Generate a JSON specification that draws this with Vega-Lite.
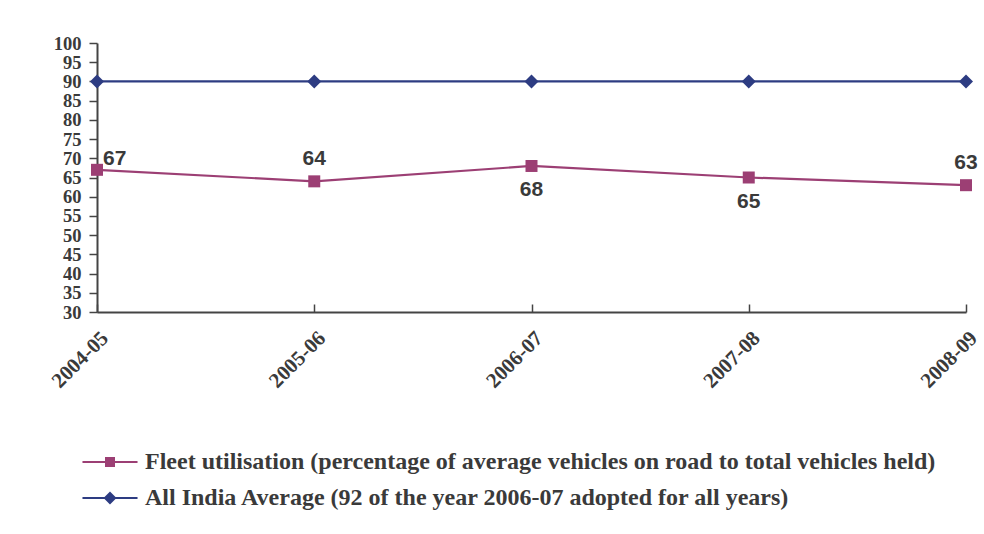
{
  "$schema": "https://vega.github.io/schema/vega-lite/v6.json",
  "width": 869,
  "height": 269,
  "autosize": {"type": "none"},
  "padding": {"left": 97, "top": 43, "right": 18, "bottom": 222},
  "background": "white",
  "config": {"view": {"stroke": null}},
  "data": {
    "values": [
      {"year": "2004-05", "series": "Fleet utilisation (percentage of average vehicles on road to total vehicles held)", "value": 67},
      {"year": "2005-06", "series": "Fleet utilisation (percentage of average vehicles on road to total vehicles held)", "value": 64},
      {"year": "2006-07", "series": "Fleet utilisation (percentage of average vehicles on road to total vehicles held)", "value": 68},
      {"year": "2007-08", "series": "Fleet utilisation (percentage of average vehicles on road to total vehicles held)", "value": 65},
      {"year": "2008-09", "series": "Fleet utilisation (percentage of average vehicles on road to total vehicles held)", "value": 63},
      {"year": "2004-05", "series": "All India Average (92 of the year 2006-07 adopted for all years)", "value": 90},
      {"year": "2005-06", "series": "All India Average (92 of the year 2006-07 adopted for all years)", "value": 90},
      {"year": "2006-07", "series": "All India Average (92 of the year 2006-07 adopted for all years)", "value": 90},
      {"year": "2007-08", "series": "All India Average (92 of the year 2006-07 adopted for all years)", "value": 90},
      {"year": "2008-09", "series": "All India Average (92 of the year 2006-07 adopted for all years)", "value": 90}
    ]
  },
  "encoding": {
    "x": {
      "field": "year",
      "type": "ordinal",
      "sort": null,
      "scale": {"type": "point", "padding": 0},
      "axis": {
        "title": null,
        "labelAngle": -45,
        "labelFont": "Liberation Serif",
        "labelFontWeight": "bold",
        "labelFontSize": 21,
        "labelColor": "#3a3a3a",
        "labelPadding": 23,
        "labelDx": 3,
        "tickSize": -8,
        "tickColor": "#444444",
        "tickWidth": 1.5,
        "domainColor": "#444444",
        "domainWidth": 2,
        "grid": false
      }
    },
    "y": {
      "field": "value",
      "type": "quantitative",
      "scale": {"domain": [30, 100], "nice": false, "zero": false},
      "axis": {
        "title": null,
        "values": [30, 35, 40, 45, 50, 55, 60, 65, 70, 75, 80, 85, 90, 95, 100],
        "labelOverlap": false,
        "labelFont": "Liberation Serif",
        "labelFontWeight": "bold",
        "labelFontSize": 18.5,
        "labelColor": "#3a3a3a",
        "labelPadding": 8,
        "tickSize": 8,
        "tickColor": "#444444",
        "tickWidth": 1.5,
        "domainColor": "#444444",
        "domainWidth": 2,
        "grid": false
      }
    },
    "color": {
      "field": "series",
      "type": "nominal",
      "scale": {
        "domain": [
          "Fleet utilisation (percentage of average vehicles on road to total vehicles held)",
          "All India Average (92 of the year 2006-07 adopted for all years)"
        ],
        "range": ["#9c3f74", "#2d3c82"]
      },
      "legend": {
        "orient": "none",
        "legendX": 1,
        "legendY": 407,
        "direction": "vertical",
        "title": null,
        "symbolSize": 256,
        "symbolStrokeWidth": 0,
        "symbolOpacity": 1,
        "labelFont": "Liberation Serif",
        "labelFontWeight": "bold",
        "labelFontSize": 24,
        "labelColor": "#3a3a3a",
        "labelLimit": 0,
        "labelOffset": 23,
        "rowPadding": 12,
        "encoding": {
          "symbols": {
            "fill": {"value": {"expr": "scale('color', datum.value)"}},
            "strokeWidth": {"value": 0},
            "shape": {
              "value": {
                "expr": "datum.value === 'Fleet utilisation (percentage of average vehicles on road to total vehicles held)' ? 'M-3.44,-0.125L3.44,-0.125L3.44,0.125L-3.44,0.125Z M-0.625,-0.625L0.625,-0.625L0.625,0.625L-0.625,0.625Z' : 'M-3.44,-0.125L3.44,-0.125L3.44,0.125L-3.44,0.125Z M0,-0.81L0.81,0L0,0.81L-0.81,0Z'"
              }
            }
          }
        }
      }
    }
  },
  "layer": [
    {
      "mark": {"type": "line", "strokeWidth": 2.2}
    },
    {
      "transform": [
        {"filter": "datum.series === 'Fleet utilisation (percentage of average vehicles on road to total vehicles held)'"}
      ],
      "mark": {"type": "point", "shape": "square", "size": 144, "filled": true, "opacity": 1}
    },
    {
      "transform": [
        {"filter": "datum.series === 'All India Average (92 of the year 2006-07 adopted for all years)'"}
      ],
      "mark": {"type": "point", "shape": "diamond", "size": 196, "filled": true, "opacity": 1}
    },
    {
      "transform": [
        {"filter": "datum.series === 'Fleet utilisation (percentage of average vehicles on road to total vehicles held)'"},
        {"filter": {"field": "year", "oneOf": ["2004-05"]}}
      ],
      "mark": {"type": "text", "font": "Liberation Sans", "fontWeight": "bold", "fontSize": 21, "color": "#3a3a3a", "align": "left", "baseline": "middle", "dx": 6, "dy": -11},
      "encoding": {"text": {"field": "value", "type": "quantitative"}, "color": {"value": "#3a3a3a"}}
    },
    {
      "transform": [
        {"filter": "datum.series === 'Fleet utilisation (percentage of average vehicles on road to total vehicles held)'"},
        {"filter": {"field": "year", "oneOf": ["2005-06", "2008-09"]}}
      ],
      "mark": {"type": "text", "font": "Liberation Sans", "fontWeight": "bold", "fontSize": 21, "color": "#3a3a3a", "align": "center", "baseline": "middle", "dy": -22},
      "encoding": {"text": {"field": "value", "type": "quantitative"}, "color": {"value": "#3a3a3a"}}
    },
    {
      "transform": [
        {"filter": "datum.series === 'Fleet utilisation (percentage of average vehicles on road to total vehicles held)'"},
        {"filter": {"field": "year", "oneOf": ["2006-07", "2007-08"]}}
      ],
      "mark": {"type": "text", "font": "Liberation Sans", "fontWeight": "bold", "fontSize": 21, "color": "#3a3a3a", "align": "center", "baseline": "middle", "dy": 24},
      "encoding": {"text": {"field": "value", "type": "quantitative"}, "color": {"value": "#3a3a3a"}}
    }
  ]
}
